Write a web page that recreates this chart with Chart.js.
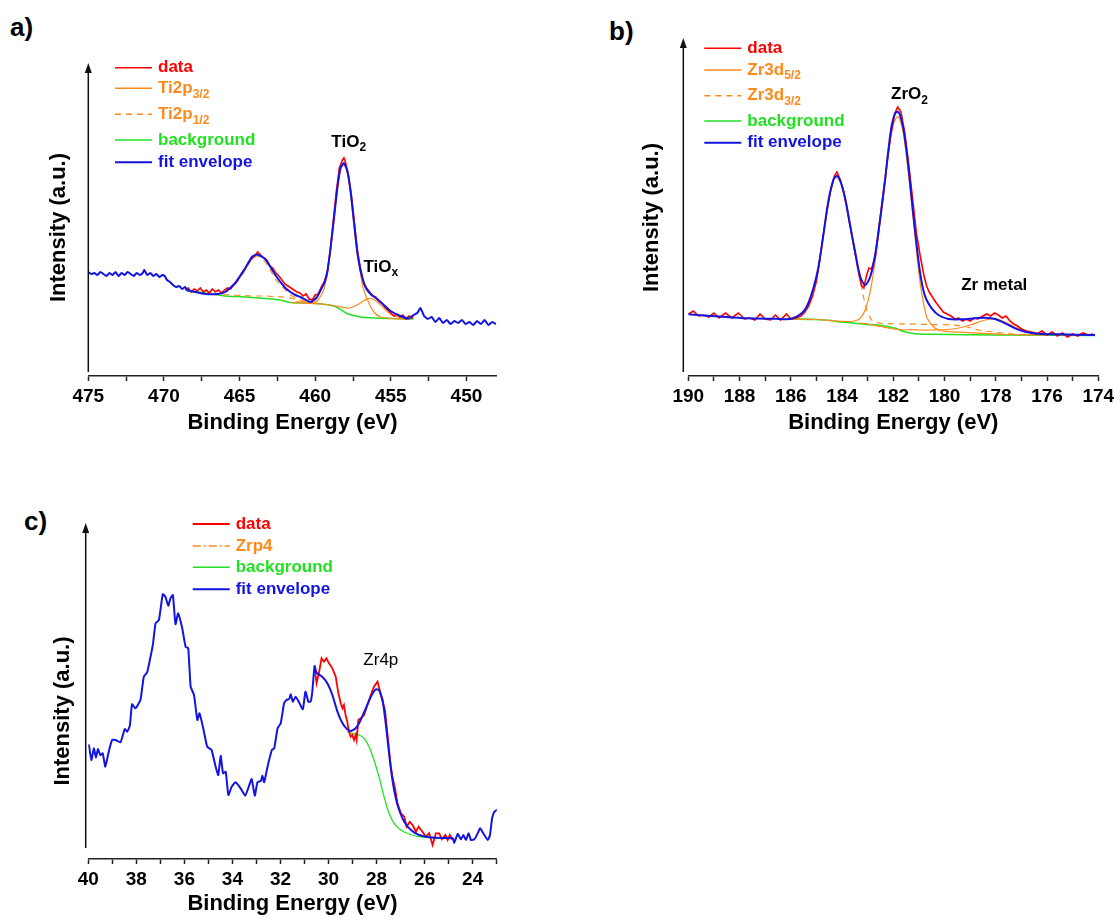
<!DOCTYPE html>
<html>
<head>
<meta charset="utf-8">
<script src="https://cdn.jsdelivr.net/npm/chart.js@4.4.0/dist/chart.umd.min.js"></script>
<style>
  body { margin:0; background:#fff; width:1120px; height:922px; position:relative; overflow:hidden; }
  canvas { position:absolute; }
  .tag { position:absolute; font:bold 26px 'Liberation Sans', Arial, sans-serif; color:#000; line-height:26px; }
</style>
</head>
<body>
<div class="tag" style="left:10px;top:14px">a)</div>
<div class="tag" style="left:609px;top:18px">b)</div>
<div class="tag" style="left:24px;top:508px">c)</div>
<canvas id="chartA" width="560" height="450" style="left:0;top:0"></canvas>
<canvas id="chartB" width="520" height="450" style="left:600px;top:0"></canvas>
<canvas id="chartC" width="560" height="442" style="left:0;top:480px"></canvas>
<script>
// ---- a) Ti2p ----
const aTicks = [450, 452.5, 455, 457.5, 460, 462.5, 465, 467.5, 470, 472.5, 475];
const aTickLabels = [450, 455, 460, 465, 470, 475];
const aLegendText = [['data'], ['Ti2p', '3/2'], ['Ti2p', '1/2'], ['background'], ['fit envelope']];

const tiData = [[468.6,86],[468.4,88],[468.2,84],[468.0,87],[467.8,85],[467.6,88],[467.4,84],[467.2,86],[467.0,83],[466.8,87],[466.6,84],[466.4,86],[466.2,83],[466.0,86],[465.8,88],[465.6,87],[465.4,91],[465.2,95],[465.0,99],[464.8,104],[464.6,108],[464.4,114],[464.2,117],[464.0,120],[463.8,124],[463.6,121],[463.4,118],[463.2,116],[463.0,110],[462.8,108],[462.6,103],[462.4,100],[462.2,96],[462.0,92],[461.8,90],[461.6,88],[461.4,86],[461.2,84],[461.0,83],[460.8,80],[460.6,82],[460.4,77],[460.2,76],[460.0,81],[459.8,82],[459.6,89],[459.4,94],[459.2,104],[459.0,126],[458.8,156],[458.6,185],[458.4,208],[458.2,216],[458.1,218],[458.0,214],[457.8,200],[457.6,180],[457.4,152],[457.2,124],[457.0,107],[456.8,93],[456.6,88],[456.4,84],[456.2,80],[456.0,79],[455.8,75],[455.6,73],[455.4,69],[455.2,66],[455.0,63],[454.8,60],[454.6,62],[454.4,59],[454.2,61],[454.0,57],[453.8,60],[453.6,58],[453.5,61]];
const tiP32 = [[461.3,74.5],[460.6,73.5],[460.0,74],[459.8,76],[459.6,81],[459.44,86],[459.21,101],[459.0,124],[458.77,155],[458.55,185],[458.33,206],[458.11,211],[457.89,204],[457.67,184],[457.45,152],[457.23,123],[457.01,103],[456.79,86],[456.45,73],[456.12,64],[455.68,59],[455.0,57.7],[453.81,57]];
const tiOxP32 = [[461.64,73.5],[460.98,73],[460.32,72.5],[459.66,72],[459.0,71],[458.33,69],[457.89,68],[457.67,68.3],[457.23,71],[456.79,75.3],[456.34,77.7],[455.9,74.3],[455.46,67.7],[455.02,62],[454.36,58.3],[453.81,57]];
const tiP12 = [[468.0,84],[467.27,83],[466.41,82.5],[465.95,84],[465.28,92],[464.62,106],[464.18,117],[463.85,120],[463.5,117],[463.3,114],[462.97,106],[462.64,97],[462.3,91],[461.97,86],[461.64,81],[461.31,78.5],[460.98,76],[460.5,74],[460.0,73],[459.5,72.5]];
const tiOxP12 = [[466.8,82],[466.3,81.5],[465.6,81],[464.9,80.5],[464.2,80],[463.5,80],[462.8,79.5],[462.1,79],[461.5,77.5],[461.0,75.5],[460.5,74]];
const tiBackground = [[468.5,85],[467.93,84],[467.27,83],[466.41,81],[465.95,80],[464.62,79],[463.3,77.5],[462.3,76],[461.64,73.5],[460.1,72.7],[459.44,71.7],[458.77,70],[458.33,66.5],[457.89,62.5],[457.45,60.5],[457.0,59],[456.1,58],[455.0,57.5],[453.81,57],[453.5,57]];
const tiEnvelope = [[475.0,104],[474.8,102],[474.6,103],[474.4,101],[474.2,104],[474.0,102],[473.8,100],[473.6,103],[473.4,101],[473.2,104],[473.0,100],[472.8,103],[472.6,101],[472.4,104],[472.2,102],[472.0,100],[471.8,103],[471.6,101],[471.4,103],[471.3,106],[471.1,101],[470.9,103],[470.7,100],[470.5,102],[470.3,99],[470.1,101],[469.95,100],[469.8,96],[469.6,94],[469.4,91],[469.2,89],[469.0,90],[468.8,87],[468.6,89],
  [468.46,86],[467.93,84],[467.27,82],[466.41,82],[465.95,84],[465.28,93],[464.62,108],[464.18,119],[463.85,121.5],[463.3,117],[462.64,101],[461.97,88],[461.64,84],[461.31,81],[460.98,79],[460.32,74],[459.92,78],[459.6,87],[459.4,93],[459.21,103],[459.0,126],[458.77,156],[458.55,186],[458.33,208],[458.11,213],[457.89,206],[457.67,186],[457.45,156],[457.23,126],[457.01,106],[456.68,89],[456.34,82],[455.9,77],[455.46,71],[455.02,65],[454.36,60],[453.81,57.5],
  [453.5,61],[453.25,63],[453.05,68],[452.8,60],[452.55,57],[452.3,59],[452.05,54],[451.8,58],[451.55,53],[451.3,56],[451.05,52],[450.8,55],[450.55,53],[450.3,56],[450.05,52],[449.8,54],[449.55,51],[449.3,55],[449.05,52],[448.8,56],[448.55,51],[448.3,54],[448.05,52]];
const aNotes = [{text:'TiO', sub:'2', x:458.93, y:234, bold:true}, {text:'TiO', sub:'x', x:456.81, y:109, bold:true}];

// ---- b) Zr3d ----
const bTicks = [174,175,176,177,178,179,180,181,182,183,184,185,186,187,188,189,190];
const bTickLabels = [174,176,178,180,182,184,186,188,190];
const bLegendText = [['data'], ['Zr3d', '5/2'], ['Zr3d', '3/2'], ['background'], ['fit envelope']];

const zrData = [[190.0,62],[189.8,65],[189.6,60],[189.4,61],[189.2,59],[189.0,63],[188.8,58],[188.55,63],[188.3,58],[188.05,63],[187.8,57],[187.6,58],[187.4,56],[187.2,62],[187.0,57],[186.8,56],[186.6,61],[186.4,56],[186.17,62],[186.0,57],[185.8,58],[185.6,60],[185.45,64],[185.3,70],[185.15,80],[185.0,95],[184.9,111],[184.75,138],[184.6,163],[184.45,185],[184.3,200],[184.2,204],[184.1,198],[183.95,186],[183.8,167],[183.65,146],[183.5,124],[183.35,103],[183.25,91],[183.15,88],[183.05,100],[182.95,108],[182.85,107],[182.7,120],[182.55,150],[182.4,182],[182.25,212],[182.1,240],[181.95,262],[181.83,269],[181.7,264],[181.55,243],[181.4,212],[181.25,178],[181.1,143],[180.95,120],[180.8,100],[180.7,90],[180.6,84],[180.5,80],[180.35,74],[180.2,69],[180.05,64],[179.9,62],[179.75,60],[179.6,57],[179.45,58],[179.3,55],[179.15,57],[179.0,55],[178.85,58],[178.7,57],[178.5,60],[178.35,62],[178.2,60],[178.05,63],[177.9,61],[177.75,58],[177.6,60],[177.45,55],[177.3,52],[177.15,50],[177.0,47],[176.8,45],[176.6,44],[176.4,42],[176.2,45],[176.0,41],[175.8,44],[175.6,40],[175.4,43],[175.2,39],[175.0,42],[174.8,40],[174.6,43],[174.4,41],[174.2,42]];
const zr52 = [[186.03,57],[185.0,56.5],[184.21,55],[183.7,54.5],[183.45,55.5],[183.29,57.7],[183.1,66],[182.9,84.3],[182.71,114.3],[182.51,154.3],[182.32,194.3],[182.2,222],[182.06,246],[181.93,256],[181.83,259.3],[181.74,256],[181.61,243],[181.48,218],[181.35,188],[181.22,157.7],[181.09,124.3],[180.96,94.3],[180.83,74.3],[180.7,59.3],[180.5,51],[180.24,46],[179.85,44.3],[178.42,42.7],[177.5,41.5],[176.0,41]];
const zrMetal = [[183.3,53],[182.9,51.5],[182.5,49.5],[182.1,47.5],[181.74,46.5],[181.0,46],[180.57,46],[179.67,47],[179.0,51],[178.42,56],[178.03,57.5],[177.64,54],[177.25,49],[176.86,45],[176.28,42.5],[175.5,41.5]];
const zr32 = [[186.03,57.5],[185.51,63.5],[185.12,87],[184.93,107],[184.73,140],[184.54,173],[184.34,194],[184.21,198],[184.08,194],[183.88,176],[183.69,150],[183.49,122],[183.29,95],[183.17,80],[183.04,66],[182.9,58],[182.78,54.5],[182.51,53],[182.3,52.5],[181.5,52],[180.6,51.5],[179.7,51],[179.2,49.5],[178.69,46],[178.03,43.7],[177.14,41.7],[175.9,41]];
const zrBackground = [[186.03,57],[185.0,56.5],[184.4,55.5],[184.21,54.5],[183.6,53],[183.04,51.5],[182.6,51],[182.32,50],[181.93,47.7],[181.55,44.3],[181.15,42.3],[180.37,41.7],[178.0,41],[174.13,40.5]];
const zrEnvelope = [[190.0,61.7],[188.8,59.5],[187.72,57.7],[186.6,57.2],[186.03,57],[185.77,59.3],[185.51,64.3],[185.32,72.7],[185.12,87.7],[184.93,107.7],[184.73,141],[184.54,174.3],[184.34,196],[184.21,200],[184.08,196],[183.88,177.7],[183.69,151],[183.49,124.3],[183.29,99.3],[183.1,91],[182.9,99.3],[182.71,121],[182.51,157.7],[182.32,196],[182.2,224.3],[182.06,251],[181.93,262.7],[181.83,264.3],[181.74,261],[181.61,247.7],[181.48,224.3],[181.35,194.3],[181.22,161],[181.09,131],[180.96,104.3],[180.83,86],[180.7,76],[180.5,67.7],[180.24,61],[179.85,57],[179.33,56.7],[178.81,57.7],[178.42,58.3],[178.03,57],[177.64,52.7],[177.25,47.7],[176.86,44.3],[176.34,42.3],[175.56,41.7],[174.13,41]];
const bNotes = [{text:'ZrO', sub:'2', x:182.09, y:281.7, bold:true}, {text:'Zr metal', x:179.35, y:90.3, bold:true}];

// ---- c) Zr4p ----
const cTicks = [23,24,25,26,27,28,29,30,31,32,33,34,35,36,37,38,39,40];
const cTickLabels = [24,26,28,30,32,34,36,38,40];
const cLegendText = [['data'], ['Zrp4'], ['background'], ['fit envelope']];

const zr4pData = [[30.58,193],[30.5,175.7],[30.4,186],[30.29,200.7],[30.19,197.3],[30.09,200.7],[29.98,195.7],[29.84,190.7],[29.7,182.3],[29.59,165.7],[29.49,155.7],[29.42,150.7],[29.36,154],[29.29,144],[29.22,137.3],[29.15,127.3],[29.08,122.3],[29.01,124],[28.94,119],[28.87,124],[28.83,119],[28.76,139],[28.66,140.7],[28.52,144],[28.38,154],[28.24,164],[28.11,172.3],[27.96,177.3],[27.87,169],[27.75,157.3],[27.65,149],[27.55,125.7],[27.41,92.3],[27.34,82.3],[27.23,70.7],[27.13,55.7],[26.99,45.7],[26.85,42.3],[26.75,32.3],[26.62,37.3],[26.5,34],[26.36,27.3],[26.25,32.3],[26.09,27.3],[25.95,22.3],[25.81,25.7],[25.67,14],[25.53,25.7],[25.39,25.7],[25.28,19.7],[25.14,24],[25.04,19],[24.95,24],[24.83,19]];
const zrp4 = [];
const zr4pBackground = [[29.22,127.3],[29.01,125.7],[28.73,124],[28.52,120.7],[28.31,112.3],[28.11,99],[27.9,82.3],[27.69,62.3],[27.48,45.7],[27.27,35.7],[26.99,29],[26.64,25],[26.23,22.3],[25.53,21],[24.83,20.7]];
const zr4pEnvelope = [[39.98,114.7],[39.87,99],[39.77,110.7],[39.68,101.3],[39.6,110],[39.5,104],[39.4,105.7],[39.29,92.3],[39.15,107.3],[39.01,119],[38.87,119],[38.66,116.7],[38.48,130],[38.38,127.3],[38.27,133.3],[38.18,154.7],[38.04,150.7],[37.83,159],[37.69,182.3],[37.55,186.7],[37.41,202.3],[37.31,214.7],[37.2,235.7],[37.06,239],[36.9,264.7],[36.79,262.3],[36.67,253.3],[36.58,260.7],[36.48,264],[36.37,234.7],[36.26,245.7],[36.09,230.7],[35.95,212.3],[35.84,210.7],[35.74,172.3],[35.6,164],[35.46,139],[35.37,145.7],[35.23,132.3],[35.05,112.3],[34.87,109],[34.7,92.3],[34.59,84],[34.49,103.3],[34.39,85.7],[34.28,87.3],[34.17,64],[34.03,72.3],[33.87,76.7],[33.66,70.7],[33.47,63.3],[33.33,71.7],[33.2,80],[33.07,63.3],[32.96,76.7],[32.82,78],[32.75,83.3],[32.68,76.7],[32.54,92.3],[32.36,109],[32.26,110.7],[32.12,130.7],[31.99,135.7],[31.85,155.7],[31.75,159],[31.64,160],[31.57,164.7],[31.49,157.3],[31.37,162.3],[31.24,157.3],[31.07,149.7],[30.96,167.3],[30.84,157.3],[30.75,157.3],[30.68,166.3],[30.58,193],[30.5,186.3],
  [30.26,182.3],[30.05,175.7],[29.84,164],[29.63,147.3],[29.42,135.7],[29.22,129.7],[29.08,128],[28.87,130.7],[28.66,139],[28.45,150.7],[28.24,162.3],[28.03,169.7],[27.9,169],[27.75,159],[27.62,135.7],[27.48,105.7],[27.34,79],[27.2,60.7],[27.06,49],[26.85,37.3],[26.57,29],[26.23,24],[25.81,21.7],[25.25,21],[24.83,20.7],
  [24.77,16.3],[24.62,25],[24.49,19.7],[24.39,24],[24.28,19],[24.17,25.7],[24.07,19],[23.93,19.7],[23.79,25.7],[23.69,30.7],[23.56,25.7],[23.37,19],[23.28,24],[23.19,40.7],[23.1,47.3],[22.96,49.7]];
const cNotes = [{text:'Zr4p', x:28.55, y:198.3, bold:false}];

const FONT = "'Liberation Sans', Arial, sans-serif";
const RED = '#ff0000', ORANGE = '#ff8a1c', GREEN = '#22e022', BLUE = '#1414e0';
Chart.defaults.font.family = FONT;
Chart.defaults.color = '#000';

function pts(arr) { return arr.map(p => ({x: p[0], y: p[1]})); }
function line(label, data, color, width, order, extra) {
  return Object.assign({label: label, data: pts(data), borderColor: color, backgroundColor: color,
    borderWidth: width, order: order, showLine: true, pointRadius: 0, fill: false, tension: 0}, extra || {});
}

// legend drawn Origin-style inside the plot, with subscripts
const sideLegend = {
  id: 'sideLegend',
  afterDraw(chart, args, o) {
    const ctx = chart.ctx;
    ctx.save();
    o.rows.forEach((row, i) => {
      const ds = chart.data.datasets[i];
      ctx.strokeStyle = ds.borderColor;
      ctx.lineWidth = Math.max(ds.borderWidth, 1.5);
      ctx.setLineDash(ds.borderDash || []);
      ctx.beginPath(); ctx.moveTo(o.x, row); ctx.lineTo(o.x + 37, row); ctx.stroke();
      ctx.setLineDash([]);
      ctx.fillStyle = ds.borderColor;
      ctx.textBaseline = 'middle';
      ctx.font = 'bold 17px ' + FONT;
      const parts = o.text[i];
      const tx = o.x + 43;
      ctx.fillText(parts[0], tx, row);
      if (parts.length > 1) {
        const w = ctx.measureText(parts[0]).width;
        ctx.font = 'bold 12px ' + FONT;
        ctx.fillText(parts[1], tx + w, row + 6);
      }
    });
    ctx.restore();
  }
};

const notes = {
  id: 'notes',
  afterDatasetsDraw(chart, args, o) {
    const {ctx, scales} = chart;
    ctx.save();
    ctx.fillStyle = '#000'; ctx.textBaseline = 'middle'; ctx.textAlign = 'left';
    o.items.forEach(n => {
      const px = scales.x.getPixelForValue(n.x), py = scales.y.getPixelForValue(n.y);
      ctx.font = (n.bold ? 'bold ' : '') + '17px ' + FONT;
      ctx.fillText(n.text, px, py);
      if (n.sub) {
        const w = ctx.measureText(n.text).width;
        ctx.font = (n.bold ? 'bold ' : '') + '12px ' + FONT;
        ctx.fillText(n.sub, px + w, py + 6);
      }
    });
    ctx.restore();
  }
};

// y axis line with arrow head
const yArrow = {
  id: 'yArrow',
  afterDraw(chart, args, o) {
    const {ctx, chartArea} = chart;
    const x = chartArea.left + o.dx;
    ctx.save();
    ctx.strokeStyle = '#111'; ctx.fillStyle = '#111'; ctx.lineWidth = 1.5;
    ctx.beginPath(); ctx.moveTo(x, o.tip + 6); ctx.lineTo(x, o.bottom); ctx.stroke();
    ctx.beginPath(); ctx.moveTo(x, o.tip); ctx.lineTo(x - 3.5, o.tip + 10); ctx.lineTo(x + 3.5, o.tip + 10); ctx.closePath(); ctx.fill();
    ctx.restore();
  }
};

function makeOptions(c) {
  return {
    responsive: false, animation: false, devicePixelRatio: 1,
    layout: {padding: c.pad},
    plugins: {
      legend: {display: false}, tooltip: {enabled: false},
      sideLegend: c.legend, notes: {items: c.notes}, yArrow: c.arrow
    },
    scales: {
      x: {
        type: 'linear', reverse: true, min: c.xMin, max: c.xMax,
        afterFit: s => { s.height = c.xHeight; },
        afterBuildTicks: s => { s.ticks = c.ticks.map(v => ({value: v})); },
        ticks: {autoSkip: false, maxRotation: 0, padding: 4, color: '#000',
          font: {size: 19, weight: 'bold'},
          callback: v => c.labels.includes(v) ? String(v) : ''},
        grid: {drawOnChartArea: false, drawTicks: true, tickLength: 5, tickWidth: 1.5, tickColor: '#222'},
        border: {display: true, color: '#222', width: 1.5},
        title: {display: true, text: 'Binding Energy (eV)', color: '#000',
          font: {size: 22, weight: 'bold'}, padding: {top: 0, bottom: c.xTitlePad}}
      },
      y: {
        type: 'linear', min: 0, max: c.yMax,
        afterFit: s => { s.width = 88.3; },
        ticks: {display: false}, grid: {display: false}, border: {display: false},
        title: {display: true, text: 'Intensity (a.u.)', color: '#000',
          font: {size: 22, weight: 'bold'}, padding: {top: c.yTitlePad, bottom: 0}}
      }
    }
  };
}

new Chart(document.getElementById('chartA'), {
  type: 'scatter',
  data: {datasets: [
    line('data', tiData, RED, 1.6, 1),
    line('Ti2p3/2', tiP32, ORANGE, 1.2, 2, {tension: 0.3}),
    line('Ti2p1/2', tiP12, ORANGE, 1.2, 2, {borderDash: [6, 5], tension: 0.3}),
    line('background', tiBackground, GREEN, 1.6, 3, {tension: 0.3}),
    line('fit envelope', tiEnvelope, BLUE, 2, 0, {tension: 0.15}),
    line('TiOx', tiOxP32, ORANGE, 1.2, 2, {tension: 0.3}),
    line('TiOx 1/2', tiOxP12, ORANGE, 1.2, 2, {borderDash: [6, 5], tension: 0.3})
  ]},
  options: makeOptions({
    pad: {top: 79, bottom: 4, left: 0, right: 63.3}, xMin: 448, xMax: 475, yMax: 297,
    ticks: aTicks, labels: aTickLabels, xHeight: 70, xTitlePad: 9.8, yTitlePad: 45.3,
    legend: {x: 115, rows: [67.7, 88.3, 114.3, 140, 162.3], text: aLegendText},
    notes: aNotes, arrow: {dx: 0, tip: 63, bottom: 372}
  }),
  plugins: [sideLegend, notes, yArrow]
});

new Chart(document.getElementById('chartB'), {
  type: 'scatter',
  data: {datasets: [
    line('data', zrData, RED, 1.6, 1),
    line('Zr3d5/2', zr52, ORANGE, 1.2, 2, {tension: 0.3}),
    line('Zr3d3/2', zr32, ORANGE, 1.2, 2, {borderDash: [6, 5], tension: 0.3}),
    line('background', zrBackground, GREEN, 1.6, 3, {tension: 0.3}),
    line('fit envelope', zrEnvelope, BLUE, 2, 0, {tension: 0.3}),
    line('Zr metal', zrMetal, ORANGE, 1.2, 2, {tension: 0.3})
  ]},
  options: makeOptions({
    pad: {top: 59, bottom: 4, left: 0, right: 21.7}, xMin: 174, xMax: 190, yMax: 317,
    ticks: bTicks, labels: bTickLabels, xHeight: 70, xTitlePad: 9.8, yTitlePad: 38.5,
    legend: {x: 104.3, rows: [48.3, 70, 95.7, 121, 142.7], text: bLegendText},
    notes: bNotes, arrow: {dx: -5, tip: 38, bottom: 372}
  }),
  plugins: [sideLegend, notes, yArrow]
});

new Chart(document.getElementById('chartC'), {
  type: 'scatter',
  data: {datasets: [
    line('data', zr4pData, RED, 1.8, 1),
    line('Zrp4', zrp4, ORANGE, 1.2, 2, {borderDash: [8, 3, 2, 3]}),
    line('background', zr4pBackground, GREEN, 1.3, 3, {tension: 0.3}),
    line('fit envelope', zr4pEnvelope, BLUE, 2, 0, {tension: 0.15})
  ]},
  options: makeOptions({
    pad: {top: 83, bottom: 0, left: 0, right: 63.3}, xMin: 23, xMax: 40, yMax: 296,
    ticks: cTicks, labels: cTickLabels, xHeight: 63, xTitlePad: 4.8, yTitlePad: 50.1,
    legend: {x: 192.7, rows: [44, 66, 87.3, 109.3], text: cLegendText},
    notes: cNotes, arrow: {dx: -2.6, tip: 43, bottom: 368}
  }),
  plugins: [sideLegend, notes, yArrow]
});
</script>
</body>
</html>
